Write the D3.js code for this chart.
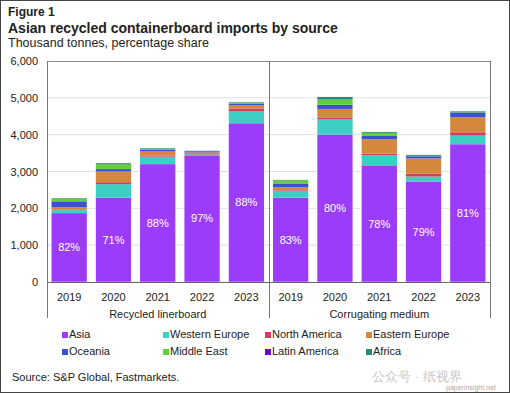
<!DOCTYPE html>
<html>
<head>
<meta charset="utf-8">
<script src="https://cdn.jsdelivr.net/npm/d3@7"></script>
<style>
  body { margin: 0; background: #fff; }
  svg text { font-family: "Liberation Sans", Arial, sans-serif; fill: #222; }
</style>
</head>
<body>
<svg id="chart" width="510" height="393"></svg>
<script>
// Chart data (thousand tonnes)
const groups = ["Recycled linerboard", "Corrugating medium"];
const years = ["2019", "2020", "2021", "2022", "2023"];
const sources = ["Asia", "Western Europe", "North America", "Eastern Europe",
  "Oceania", "Middle East", "Latin America", "Africa"];
const colors = ["#9b3cfb", "#3ccfc4", "#d63c5e", "#d4883e",
  "#3a50d6", "#5fcf3a", "#6a0dcc", "#2a8a78"];

// one array per source, 10 bars: linerboard 2019-2023, then medium 2019-2023
const asia          = [1870, 2290, 3200, 3440, 4310, 2290, 4000, 3150, 2720, 3740];
const westernEurope = [80, 365, 205, 25, 320, 190, 425, 290, 145, 235];
const northAmerica  = [20, 55, 30, 10, 80, 15, 45, 45, 75, 90];
const easternEurope = [60, 290, 110, 45, 90, 80, 230, 390, 415, 410];
const oceania       = [160, 65, 40, 30, 45, 100, 115, 90, 60, 120];
const middleEast    = [80, 135, 40, 5, 30, 90, 135, 80, 10, 5];
const latinAmerica  = [5, 10, 5, 5, 5, 5, 5, 5, 5, 5];
const africa        = [5, 20, 10, 5, 10, 5, 70, 25, 25, 30];
const asiaShare     = ["82%", "71%", "88%", "97%", "88%", "83%", "80%", "78%", "79%", "81%"];

const yTicks = [0, 1000, 2000, 3000, 4000, 5000, 6000];

const series = [asia, westernEurope, northAmerica, easternEurope,
  oceania, middleEast, latinAmerica, africa];

// build rows for d3.stack
const rows = [];
groups.forEach((g, gi) => {
  years.forEach((yr, yi) => {
    const i = gi * years.length + yi;
    const row = { key: g + "-" + yr, year: yr, group: g, share: asiaShare[i] };
    sources.forEach((s, si) => { row[s] = series[si][i]; });
    rows.push(row);
  });
});

const svg = d3.select("#chart");
const W = 510, H = 393;
const plot = { left: 47, right: 490, top: 61, bottom: 282 };

// outer frame
svg.append("rect")
  .attr("x", 0.5).attr("y", 0.5)
  .attr("width", W - 1).attr("height", H - 1)
  .attr("fill", "none").attr("stroke", "#444").attr("stroke-width", 1);

// titles
svg.append("text").attr("x", 8).attr("y", 16)
  .attr("font-size", 12).attr("font-weight", "bold").text("Figure 1");
svg.append("text").attr("x", 8).attr("y", 33)
  .attr("font-size", 14).attr("font-weight", "bold")
  .text("Asian recycled containerboard imports by source");
svg.append("text").attr("x", 8).attr("y", 47)
  .attr("font-size", 12.5).text("Thousand tonnes, percentage share");

const x = d3.scaleBand()
  .domain(rows.map(d => d.key))
  .range([plot.left, plot.right])
  .paddingInner(0.2)
  .paddingOuter(0.1);

const y = d3.scaleLinear()
  .domain([0, 6000])
  .range([plot.bottom, plot.top]);

// gridlines
svg.append("g")
  .selectAll("line")
  .data(yTicks.slice(1, -1))
  .join("line")
  .attr("x1", plot.left).attr("x2", plot.right)
  .attr("y1", d => y(d)).attr("y2", d => y(d))
  .attr("stroke", "#e0e0e0").attr("stroke-width", 1);

// y axis labels
const yAxis = d3.axisLeft(y)
  .tickValues(yTicks)
  .tickSize(0)
  .tickPadding(9)
  .tickFormat(d3.format(","));
svg.append("g")
  .attr("transform", `translate(${plot.left},0)`)
  .call(yAxis)
  .call(g => g.select(".domain").remove())
  .selectAll("text")
  .attr("font-size", 11)
  .attr("font-family", "Liberation Sans, Arial, sans-serif")
  .attr("fill", "#222");

// stacked bars
const stack = d3.stack().keys(sources);
const stacked = stack(rows);

svg.append("g")
  .selectAll("g")
  .data(stacked)
  .join("g")
  .attr("fill", (d, i) => colors[i])
  .selectAll("rect")
  .data(d => d)
  .join("rect")
  .attr("x", d => x(d.data.key))
  .attr("width", x.bandwidth())
  .attr("y", d => y(d[1]))
  .attr("height", d => y(d[0]) - y(d[1]));

// light outline around each bar
svg.append("g")
  .selectAll("rect")
  .data(rows)
  .join("rect")
  .attr("x", d => x(d.key) - 0.5)
  .attr("width", x.bandwidth() + 1)
  .attr("y", d => y(d3.sum(sources, s => d[s])) - 0.5)
  .attr("height", d => y(0) - y(d3.sum(sources, s => d[s])) + 0.5)
  .attr("fill", "none")
  .attr("stroke", "#ffffff")
  .attr("stroke-opacity", 0.45)
  .attr("stroke-width", 1);

// Asia share labels
svg.append("g")
  .selectAll("text")
  .data(rows)
  .join("text")
  .attr("x", d => x(d.key) + x.bandwidth() / 2)
  .attr("y", d => y(d.Asia / 2))
  .attr("dy", "0.35em")
  .attr("text-anchor", "middle")
  .attr("font-size", 11)
  .style("fill", "#fff")
  .text(d => d.share);

// plot frame
const divX = (x(rows[4].key) + x.bandwidth() + x(rows[5].key)) / 2;
const frame = svg.append("g").attr("stroke", "#8a8a8a").attr("stroke-width", 1);
frame.append("line").attr("x1", plot.left).attr("x2", plot.right)
  .attr("y1", plot.top + 0.5).attr("y2", plot.top + 0.5);
frame.append("line").attr("x1", plot.left).attr("x2", plot.right)
  .attr("y1", plot.bottom + 0.5).attr("y2", plot.bottom + 0.5).attr("stroke", "#666");
[plot.left, divX, plot.right].forEach(xx => {
  frame.append("line")
    .attr("x1", Math.round(xx) + 0.5).attr("x2", Math.round(xx) + 0.5)
    .attr("y1", plot.top).attr("y2", 318)
    .attr("stroke", "#777");
});

// x axis year labels
svg.append("g")
  .selectAll("text")
  .data(rows)
  .join("text")
  .attr("x", d => x(d.key) + x.bandwidth() / 2)
  .attr("y", 301)
  .attr("text-anchor", "middle")
  .attr("font-size", 11)
  .text(d => d.year);

// group labels
const groupCenters = [(plot.left + divX) / 2, (divX + plot.right) / 2];
svg.append("g")
  .selectAll("text")
  .data(groups)
  .join("text")
  .attr("x", (d, i) => groupCenters[i])
  .attr("y", 318)
  .attr("text-anchor", "middle")
  .attr("font-size", 11)
  .text(d => d);

// legend
const legendCols = [62, 163, 265, 366];
const legend = svg.append("g")
  .selectAll("g")
  .data(sources)
  .join("g")
  .attr("transform", (d, i) => `translate(${legendCols[i % 4]},${i < 4 ? 338 : 355})`);
legend.append("rect")
  .attr("x", 0).attr("y", -6)
  .attr("width", 6).attr("height", 6)
  .attr("fill", (d, i) => colors[i]);
legend.append("text")
  .attr("x", 7).attr("y", 0)
  .attr("font-size", 11)
  .text(d => d);

// source note
svg.append("text").attr("x", 12).attr("y", 381)
  .attr("font-size", 11).text("Source: S&P Global, Fastmarkets.");

// watermark
svg.append("text").attr("x", 372).attr("y", 381)
  .attr("font-size", 13)
  .attr("font-family", "Noto Sans CJK SC")
  .style("fill", "#c8c8c8")
  .text("公众号 · 纸视界");
svg.append("text").attr("x", 446).attr("y", 390)
  .attr("font-size", 7)
  .style("fill", "#aaa")
  .text("paperinsight.net");
</script>
</body>
</html>
